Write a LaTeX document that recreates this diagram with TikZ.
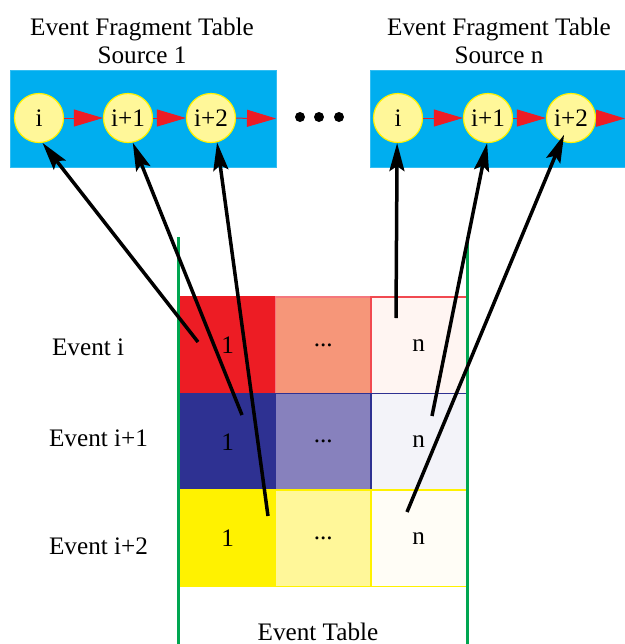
\documentclass[tikz,border=0pt]{standalone}
\usepackage{fontspec}
\setmainfont{Liberation Serif}
\usetikzlibrary{arrows.meta,positioning}

\definecolor{fragblue}{HTML}{00AEEF}
\definecolor{evfill}{HTML}{FFF799}
\definecolor{evline}{HTML}{FFF200}
\definecolor{linkred}{HTML}{ED1C24}
\definecolor{tabgreen}{HTML}{00A651}
\definecolor{rowred}{HTML}{ED1C24}
\definecolor{rowredmid}{HTML}{F69679}
\definecolor{rowredlow}{HTML}{FFF5F2}
\definecolor{rownavy}{HTML}{2E3192}
\definecolor{rownavymid}{HTML}{8781BD}
\definecolor{rownavylow}{HTML}{F3F3F9}
\definecolor{rowyellow}{HTML}{FFF200}
\definecolor{rowyellowmid}{HTML}{FFF799}
\definecolor{rowyellowlow}{HTML}{FFFDF6}

\begin{document}
\begin{tikzpicture}[
    x=0.5pt, y=-0.5pt,
    font=\fontsize{12.6}{14}\selectfont,
    frag/.style={fill=fragblue, draw=fragblue!80!white, minimum height=48.5pt, inner sep=0, outer sep=0}, % Fragment table
    ev/.style={circle, fill=evfill, draw=evline, line width=0.6pt, minimum size=24.5pt, inner sep=0}, % Event fragment
    link/.style={draw=linkred, line width=0.5pt, -{Triangle[length=14.5pt,width=8.5pt,fill=linkred]}}, % Next fragment
    ptr/.style={line width=1.75pt, -{Stealth[length=14pt,width=7.5pt,inset=2.5pt]}}, % Event table pointer
    cell/.style={minimum width=47.75pt, minimum height=48.25pt, inner sep=0, outer sep=0, line width=0.6pt}, % Table cell
    node distance=0pt
    ]
    \useasboundingbox (0,0) rectangle (625,644);

    % Fragment tables
    \node[frag, minimum width=133pt] (S1) at (143,118.5) {};
    \node[frag, minimum width=127.5pt] (Sn) at (497.5,118.5) {};
    \node[align=center] (S1_title) at (142,41) {Event Fragment Table\\Source 1};
    \node[align=center] (Sn_title) at (499,41) {Event Fragment Table\\Source n};

    % Fragments of source 1
    \node[ev] (S1_1) at (39,118) {i};
    \node[ev] (S1_2) at (128,118) {i+1};
    \node[ev] (S1_3) at (211,118) {i+2};

    % Fragments of source n
    \node[ev] (Sn_1) at (398,118) {i};
    \node[ev] (Sn_2) at (488,118) {i+1};
    \node[ev] (Sn_3) at (571,118) {i+2};

    % Other sources
    \foreach \x in {300,319,339}
        \fill (\x,117) circle (2.5pt);

    % Fragment chains
    \foreach \s in {S1,Sn} {
        \draw[link] (\s_1) -- (\s_2);
        \draw[link] (\s_2) -- (\s_3);
        \draw[link] (\s_3) -- (\s.east);
    }

    % Event table
    \node[cell, fill=rowred, draw=rowred] (E1_1) at (227.75,345.25) {1};
    \node[cell, fill=rowredmid, draw=rowred!60, right=of E1_1] (E1_2) {...};
    \node[cell, fill=rowredlow, draw=rowred!80, right=of E1_2] (E1_3) {n};

    \node[cell, fill=rownavy, draw=rownavy, below=of E1_1] (E2_1) {1};
    \node[cell, fill=rownavymid, draw=rownavy, below=of E1_2] (E2_2) {...};
    \node[cell, fill=rownavylow, draw=rownavy, below=of E1_3] (E2_3) {n};

    \node[cell, fill=rowyellow, draw=rowyellow, below=of E2_1] (E3_1) {1};
    \node[cell, fill=rowyellowmid, draw=rowyellow, below=of E2_2] (E3_2) {...};
    \node[cell, fill=rowyellowlow, draw=rowyellow, below=of E2_3] (E3_3) {n};

    \node[anchor=west] (R1) at (45,347) {Event i};
    \node[anchor=west] (R2) at (42,438) {Event i+1};
    \node[anchor=west] (R3) at (42,546) {Event i+2};
    \node (E_title) at (318,632) {Event Table};

    \draw[tabgreen, line width=1.5pt] (178.5,237) -- (178.5,644);
    \draw[tabgreen, line width=1.5pt] (467,237) -- (467,644);

    % Pointers from the event table
    \coordinate (a1) at (198,342);
    \coordinate (a2) at (242,415);
    \coordinate (a3) at (268,516);
    \coordinate (a4) at (396,318);
    \coordinate (a5) at (432,416);
    \coordinate (a6) at (407,512);

    \draw[ptr] (a1) -- (S1_1.-82);
    \draw[ptr] (a2) -- (S1_2.-79);
    \draw[ptr] (a3) -- (S1_3.-76);
    \draw[ptr] (a4) -- (Sn_1.-92);
    \draw[ptr] (a5) -- (Sn_2.-92);
    \draw[ptr, shorten >=9pt] (a6) -- (Sn_3.center);

\end{tikzpicture}
\end{document}
